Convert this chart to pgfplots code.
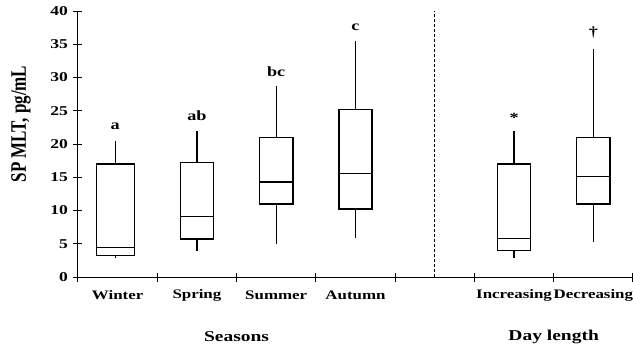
\documentclass[border=0pt]{standalone}
\usepackage{pgfplots}
\pgfplotsset{compat=1.18}
\usepgfplotslibrary{statistics}
\usepackage{fontspec}
\setmainfont{Liberation Serif}[FakeStretch=1.3]
\newfontfamily\plainserif{Liberation Serif}
\begin{document}
\begin{tikzpicture}
\begin{axis}[
  scale only axis, width=555pt, height=266pt,
  xmin=0, xmax=7, ymin=0, ymax=40,
  axis x line=bottom, axis y line=left,
  axis line style={-, line width=1pt, black},
  xtick={0,...,7}, xticklabels={},
  ytick={0,5,...,40},
  tick align=center, major tick length=9pt,
  tick style={line width=1pt, black},
  yticklabel style={font=\fontsize{13.5}{13.5}\selectfont\bfseries, xshift=-2pt},
  /pgf/number format/assume math mode=true,
  clip=false,
  boxplot/draw direction=y,
  boxplot/box extend=0.42, boxplot/whisker extend=0,
]
\coordinate (O) at (rel axis cs:0,0);
\addplot[black, line width=1.4pt, boxplot prepared={draw position=0.47, lower whisker=2.8, lower quartile=3.2, median=4.4, upper quartile=17.0, upper whisker=20.5, box extend=0.48}] coordinates {};
\addplot[black, line width=1.4pt, boxplot prepared={draw position=1.5, lower whisker=3.9, lower quartile=5.7, median=9.1, upper quartile=17.2, upper whisker=21.9}] coordinates {};
\addplot[black, line width=1.4pt, boxplot prepared={draw position=2.5, lower whisker=5.0, lower quartile=11.0, median=14.3, upper quartile=21.0, upper whisker=28.7}] coordinates {};
\addplot[black, line width=1.4pt, boxplot prepared={draw position=3.5, lower whisker=5.8, lower quartile=10.2, median=15.6, upper quartile=25.2, upper whisker=35.5}] coordinates {};
\addplot[black, line width=1.4pt, boxplot prepared={draw position=5.5, lower whisker=2.8, lower quartile=4.0, median=5.8, upper quartile=17.0, upper whisker=21.9}] coordinates {};
\addplot[black, line width=1.4pt, boxplot prepared={draw position=6.5, lower whisker=5.2, lower quartile=11.0, median=15.1, upper quartile=21.0, upper whisker=34.3}] coordinates {};
\addplot[black, densely dashed, line width=0.8pt] coordinates {(4.5,0) (4.5,40)};
% y label
\node[xshift=-57pt, rotate=90, font=\plainserif\fontsize{17}{17}\selectfont\bfseries] at (rel axis cs:0,0.575) {\scalebox{1}[1.3]{SP MLT, pg/mL}};
% category labels
\foreach \p/\t in {0.5/Winter,1.5/Spring,2.5/Summer,3.5/Autumn,5.5/Increasing,6.5/Decreasing}{
  \edef\tmp{\noexpand\node[font=\noexpand\fontsize{13}{13}\noexpand\selectfont\noexpand\bfseries, yshift=-18pt] at (axis cs:\p,0) {\t};}\tmp
}
\node[font=\fontsize{15}{15}\selectfont\bfseries, yshift=-60pt] at (axis cs:2,0) {Seasons};
\node[font=\fontsize{15}{15}\selectfont\bfseries, yshift=-60pt] at (axis cs:6,0) {Day length};
% significance letters
\node[font=\fontsize{14}{14}\selectfont\bfseries] at (axis cs:0.47,22.6) {a};
\node[font=\fontsize{14}{14}\selectfont\bfseries] at (axis cs:1.5,24.2) {ab};
\node[font=\fontsize{14}{14}\selectfont\bfseries] at (axis cs:2.5,30.9) {bc};
\node[font=\fontsize{14}{14}\selectfont\bfseries] at (axis cs:3.5,37.6) {c};
\node[font=\fontsize{14}{14}\selectfont\bfseries] at (axis cs:5.5,23.9) {*};
\node[font=\fontsize{14}{14}\selectfont\bfseries] at (axis cs:6.5,36.8) {\dag};
\end{axis}
\pgfresetboundingbox
\path[use as bounding box] ([shift={(-78pt,-72pt)}]O) rectangle ([shift={(555pt,277pt)}]O);
\end{tikzpicture}
\end{document}
